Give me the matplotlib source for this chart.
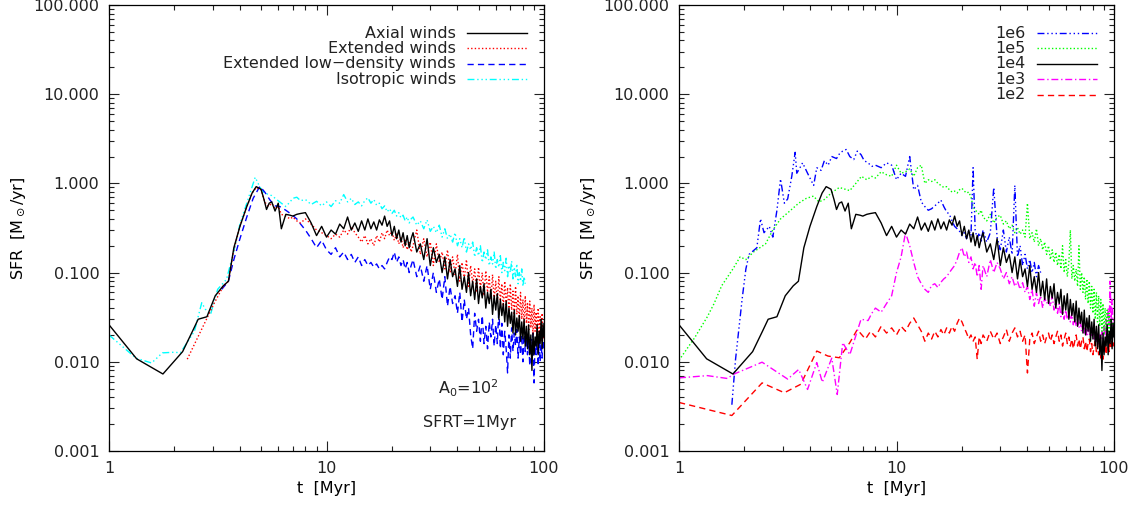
import numpy as np
import matplotlib
matplotlib.use("Agg")
import matplotlib.pyplot as plt
from matplotlib.ticker import LogLocator, FixedLocator, FuncFormatter, NullFormatter

plt.rcParams['font.family'] = ['DejaVu Sans']

# ---------------- time grids (simulation output cadence) ----------------
T_MID = np.arange(8.0, 24.51, 0.5)      # 34 outputs
T_TAIL = np.arange(25.0, 100.01, 1.0)   # 76 outputs

# ---------------- left panel: wind models ----------------
axial_t_early = [1.0, 1.34, 1.77, 2.18, 2.42, 2.57, 2.82, 3.08, 3.35, 3.54, 3.75, 4.0, 4.3,
                 4.55, 4.75, 5.0, 5.16, 5.3, 5.45, 5.6, 5.8, 6.0, 6.2, 6.5, 6.8, 7.0, 7.3, 7.6]
axial_y_early = [0.026, 0.0108, 0.0073, 0.013, 0.022, 0.030, 0.032, 0.055, 0.071, 0.080, 0.19,
                 0.33, 0.55, 0.78, 0.92, 0.86, 0.66, 0.51, 0.60, 0.62, 0.49, 0.60, 0.31, 0.45,
                 0.44, 0.43, 0.45, 0.46]
axial_y_mid = [0.47, 0.36, 0.26, 0.33, 0.25, 0.30, 0.27, 0.35, 0.31, 0.42, 0.30, 0.36, 0.29,
               0.38, 0.30, 0.40, 0.31, 0.37, 0.30, 0.39, 0.34, 0.43, 0.33, 0.38, 0.26, 0.33,
               0.24, 0.30, 0.22, 0.28, 0.20, 0.26, 0.19, 0.24]
axial_y_tail = [0.28, 0.17, 0.21, 0.14, 0.24, 0.12, 0.19, 0.13, 0.16, 0.10, 0.15, 0.085, 0.14,
                0.09, 0.11, 0.07, 0.12, 0.065, 0.09, 0.06, 0.10, 0.055, 0.08, 0.05, 0.085,
                0.045, 0.07, 0.052, 0.075, 0.04, 0.06, 0.045, 0.065, 0.034, 0.055, 0.038, 0.058,
                0.03, 0.05, 0.033, 0.045, 0.028, 0.048, 0.025, 0.04, 0.027, 0.036, 0.021, 0.038,
                0.02, 0.031, 0.022, 0.033, 0.017, 0.028, 0.018, 0.03, 0.015, 0.025, 0.014, 0.026,
                0.012, 0.02, 0.008, 0.021, 0.012, 0.019, 0.015, 0.026, 0.012, 0.022, 0.016,
                0.03, 0.014, 0.027, 0.019]

ext_t_early = [2.29, 3.04, 3.35, 3.54, 3.75, 4.0, 4.3, 4.55, 4.75, 5.0, 5.2, 5.4, 5.6, 5.8,
               6.0, 6.2, 6.5, 6.8, 7.0, 7.3, 7.6]
ext_y_early = [0.0107, 0.045, 0.07, 0.08, 0.18, 0.33, 0.55, 0.78, 0.90, 0.85, 0.62, 0.55,
               0.60, 0.52, 0.55, 0.45, 0.43, 0.40, 0.42, 0.38, 0.36]
ext_y_mid = [0.40, 0.35, 0.30, 0.28, 0.26, 0.24, 0.27, 0.25, 0.30, 0.27, 0.33, 0.28, 0.25,
             0.22, 0.26, 0.21, 0.24, 0.20, 0.26, 0.22, 0.28, 0.24, 0.30, 0.26, 0.29, 0.23,
             0.27, 0.21, 0.25, 0.19, 0.23, 0.18, 0.22, 0.17]
ext_y_tail = [0.20, 0.30, 0.16, 0.24, 0.15, 0.22, 0.12, 0.21, 0.13, 0.17, 0.11, 0.18, 0.10,
              0.15, 0.095, 0.16, 0.08, 0.13, 0.085, 0.14, 0.07, 0.12, 0.075, 0.11, 0.06, 0.115,
              0.065, 0.1, 0.055, 0.105, 0.06, 0.09, 0.05, 0.095, 0.05, 0.08, 0.045, 0.09,
              0.048, 0.075, 0.04, 0.08, 0.042, 0.068, 0.036, 0.075, 0.038, 0.062, 0.032, 0.07,
              0.034, 0.055, 0.028, 0.06, 0.03, 0.05, 0.025, 0.055, 0.027, 0.045, 0.022, 0.048,
              0.024, 0.04, 0.02, 0.044, 0.022, 0.036, 0.018, 0.04, 0.02, 0.032, 0.017, 0.035,
              0.018, 0.025]

lowd_t_early = [3.3, 3.54, 3.75, 4.0, 4.3, 4.6, 4.94, 5.2, 5.5, 5.8, 6.1, 6.5, 6.9, 7.3, 7.6]
lowd_y_early = [0.065, 0.08, 0.14, 0.24, 0.42, 0.68, 0.93, 0.80, 0.65, 0.56, 0.55, 0.50,
                0.45, 0.40, 0.35]
lowd_y_mid = [0.30, 0.24, 0.19, 0.23, 0.18, 0.16, 0.19, 0.15, 0.17, 0.14, 0.16, 0.13, 0.15,
              0.12, 0.14, 0.12, 0.13, 0.115, 0.125, 0.11, 0.12, 0.11, 0.13, 0.15, 0.14, 0.17,
              0.13, 0.15, 0.12, 0.14, 0.11, 0.13, 0.10, 0.12]
lowd_y_tail = [0.14, 0.09, 0.12, 0.08, 0.12, 0.065, 0.10, 0.06, 0.085, 0.05, 0.09, 0.042, 0.07,
               0.045, 0.055, 0.035, 0.06, 0.028, 0.05, 0.03, 0.04, 0.02, 0.014, 0.035, 0.022,
               0.03, 0.017, 0.033, 0.016, 0.025, 0.014, 0.028, 0.019, 0.03, 0.015, 0.026, 0.016,
               0.04, 0.014, 0.027, 0.012, 0.022, 0.014, 0.0075, 0.02, 0.011, 0.024, 0.013, 0.021,
               0.015, 0.023, 0.011, 0.019, 0.012, 0.02, 0.01, 0.023, 0.013, 0.021, 0.012, 0.019,
               0.009, 0.018, 0.013, 0.021, 0.0058, 0.017, 0.012, 0.021, 0.009, 0.019, 0.01, 0.016,
               0.011, 0.02, 0.014]

iso_t_early = [1.0, 1.33, 1.57, 1.76, 2.0, 2.13, 2.47, 2.67, 2.77, 2.93, 3.16, 3.47, 3.74,
               4.0, 4.3, 4.7, 4.95, 5.16, 5.4, 5.6, 5.9, 6.2, 6.5, 6.8, 7.0, 7.3, 7.6]
iso_y_early = [0.020, 0.011, 0.0097, 0.0126, 0.0128, 0.0126, 0.022, 0.046, 0.039, 0.034,
               0.065, 0.084, 0.17, 0.35, 0.60, 1.17, 0.90, 0.79, 0.75, 0.73, 0.66, 0.60, 0.55,
               0.62, 0.68, 0.70, 0.64]
iso_y_mid = [0.66, 0.58, 0.63, 0.56, 0.62, 0.55, 0.64, 0.60, 0.75, 0.62, 0.68, 0.58, 0.62,
             0.56, 0.64, 0.69, 0.60, 0.66, 0.57, 0.60, 0.52, 0.56, 0.48, 0.52, 0.46, 0.50,
             0.43, 0.47, 0.41, 0.44, 0.38, 0.42, 0.36, 0.40]
iso_y_tail = [0.42, 0.34, 0.38, 0.31, 0.39, 0.29, 0.33, 0.28, 0.34, 0.25, 0.31, 0.24, 0.27,
              0.22, 0.28, 0.20, 0.24, 0.19, 0.25, 0.17, 0.21, 0.18, 0.22, 0.15, 0.19, 0.155,
              0.2, 0.13, 0.17, 0.14, 0.18, 0.12, 0.15, 0.125, 0.17, 0.11, 0.14, 0.115, 0.155,
              0.1, 0.13, 0.105, 0.145, 0.09, 0.12, 0.1, 0.135, 0.085, 0.115, 0.09, 0.125, 0.075,
              0.1, 0.08, 0.11, 0.07, 0.09, 0.075]

# ---------------- right panel: initial density runs ----------------
r6_t_early = [1.75, 1.82, 1.95, 2.03, 2.1, 2.28, 2.37, 2.46, 2.6, 2.7, 2.82, 2.93, 3.05, 3.16,
              3.3, 3.42, 3.48, 3.6, 3.7, 3.9, 4.16, 4.3, 4.5, 4.66, 4.85, 5.04, 5.3, 5.5,
              5.66, 5.87, 6.1, 6.36, 6.6, 6.87, 7.1, 7.4, 7.7]
r6_y_early = [0.0033, 0.0107, 0.05, 0.11, 0.16, 0.19, 0.40, 0.28, 0.33, 0.25, 0.50, 1.12,
              0.60, 0.67, 1.2, 2.23, 1.3, 1.5, 1.7, 1.3, 0.95, 1.5, 1.4, 1.8, 1.6, 2.0, 1.9,
              2.2, 2.3, 2.4, 2.0, 1.85, 2.3, 2.1, 1.8, 1.7, 1.55]
r6_y_mid = [1.6, 1.5, 1.7, 1.6, 1.1, 1.3, 1.2, 2.0, 0.85, 0.95, 0.62, 0.55, 0.50, 0.52, 0.56,
            0.60, 0.65, 0.55, 0.48, 0.45, 0.38, 0.33, 0.31, 0.29, 0.26, 0.28, 0.24, 0.30,
            0.26, 1.5, 0.30, 0.24, 0.28, 0.22]
r6_y_tail = [0.30, 0.22, 0.28, 0.90, 0.25, 0.18, 0.30, 0.17, 0.25, 0.16, 0.95, 0.15, 0.20,
             0.12, 0.16, 0.11, 0.14, 0.10, 0.13, 0.09, 0.12, 0.10]

r5_t_early = [1.0, 1.18, 1.35, 1.45, 1.57, 1.77, 1.91, 2.03, 2.2, 2.5, 2.7, 2.93, 3.2, 3.55,
              3.85, 4.15, 4.4, 4.66, 5.04, 5.46, 5.8, 6.1, 6.5, 6.9, 7.3, 7.7]
r5_y_early = [0.0104, 0.0186, 0.032, 0.045, 0.071, 0.11, 0.15, 0.14, 0.17, 0.21, 0.30, 0.40,
              0.48, 0.60, 0.68, 0.72, 0.62, 0.66, 0.79, 0.90, 0.86, 0.83, 1.0, 1.2, 1.1, 1.2]
r5_y_mid = [1.15, 1.35, 1.25, 1.2, 1.6, 1.3, 1.35, 1.45, 1.2, 1.5, 1.6, 1.0, 1.1, 1.05, 1.1,
            1.0, 0.95, 0.9, 0.92, 0.85, 0.8, 0.82, 0.78, 0.85, 0.88, 0.82, 0.78, 0.8, 0.7,
            0.55, 0.5, 0.48, 0.45, 0.5]
r5_y_tail = [0.42, 0.38, 0.45, 0.36, 0.42, 0.44, 0.35, 0.38, 0.31, 0.34, 0.28, 0.32, 0.27,
             0.30, 0.25, 0.60, 0.24, 0.28, 0.22, 0.31, 0.20, 0.24, 0.18, 0.22, 0.16, 0.20,
             0.14, 0.18, 0.13, 0.17, 0.12, 0.16, 0.11, 0.20, 0.10, 0.14, 0.09, 0.13, 0.30,
             0.085, 0.12, 0.08, 0.11, 0.07, 0.20, 0.065, 0.10, 0.06, 0.09, 0.05, 0.085, 0.045,
             0.08, 0.04, 0.07, 0.035, 0.065, 0.03, 0.06, 0.028, 0.055, 0.025, 0.05, 0.022,
             0.045, 0.02, 0.04, 0.022, 0.038, 0.02, 0.035, 0.018, 0.03, 0.02, 0.028, 0.022]

r3_t_early = [1.0, 1.35, 1.67, 1.77, 2.41, 3.16, 3.55, 3.9, 4.3, 4.56, 5.04, 5.34, 5.66, 6.1,
              6.87, 7.4, 7.7]
r3_y_early = [0.0066, 0.0070, 0.0065, 0.0072, 0.0099, 0.0064, 0.0082, 0.0049, 0.0098, 0.0059,
              0.011, 0.0043, 0.0164, 0.012, 0.030, 0.029, 0.035]
r3_y_mid = [0.04, 0.036, 0.045, 0.055, 0.10, 0.15, 0.28, 0.20, 0.13, 0.09, 0.075, 0.065,
            0.06, 0.072, 0.075, 0.068, 0.078, 0.085, 0.09, 0.10, 0.11, 0.12, 0.14, 0.17, 0.19,
            0.15, 0.17, 0.13, 0.15, 0.11, 0.13, 0.09, 0.12, 0.065]
r3_y_tail = [0.12, 0.09, 0.14, 0.10, 0.13, 0.11, 0.085, 0.10, 0.075, 0.09, 0.07, 0.08, 0.065,
             0.077, 0.06, 0.07, 0.05, 0.065, 0.042, 0.06, 0.045, 0.055, 0.04, 0.052, 0.045,
             0.05, 0.042, 0.055, 0.038, 0.05, 0.035, 0.045, 0.032, 0.04, 0.03, 0.038, 0.03,
             0.036, 0.028, 0.035, 0.026, 0.032, 0.025, 0.03, 0.024, 0.028, 0.022, 0.027, 0.021,
             0.026, 0.02, 0.025, 0.02, 0.024, 0.019, 0.023, 0.018, 0.022, 0.017, 0.021, 0.016,
             0.02, 0.018, 0.022, 0.016, 0.025, 0.02, 0.03, 0.022, 0.04, 0.025, 0.08, 0.03,
             0.05, 0.025, 0.03]

r2_t_early = [1.0, 1.75, 2.41, 3.05, 3.63, 4.3, 4.84, 5.46, 6.1, 6.6, 7.2, 7.6]
r2_y_early = [0.0035, 0.0025, 0.0058, 0.0045, 0.0056, 0.0132, 0.0116, 0.0111, 0.0164, 0.023,
              0.018, 0.022]
r2_y_mid = [0.019, 0.025, 0.021, 0.024, 0.020, 0.025, 0.022, 0.027, 0.031, 0.026, 0.022,
            0.017, 0.021, 0.018, 0.022, 0.019, 0.023, 0.020, 0.024, 0.021, 0.025, 0.022,
            0.027, 0.031, 0.028, 0.024, 0.021, 0.018, 0.020, 0.017, 0.019, 0.0107, 0.019, 0.016]
r2_y_tail = [0.020, 0.017, 0.022, 0.018, 0.021, 0.016, 0.019, 0.023, 0.017, 0.021, 0.024,
             0.019, 0.022, 0.017, 0.020, 0.0075, 0.018, 0.021, 0.016, 0.019, 0.022, 0.017,
             0.020, 0.016, 0.019, 0.021, 0.017, 0.020, 0.016, 0.019, 0.022, 0.017, 0.020,
             0.015, 0.018, 0.021, 0.016, 0.019, 0.015, 0.018, 0.014, 0.017, 0.020, 0.015,
             0.018, 0.014, 0.017, 0.019, 0.014, 0.017, 0.013, 0.016, 0.018, 0.013, 0.016,
             0.012, 0.015, 0.017, 0.013, 0.016, 0.012, 0.015, 0.011, 0.014, 0.0107, 0.013,
             0.016, 0.012, 0.015, 0.018, 0.013, 0.016, 0.014, 0.020, 0.015, 0.017]

left_labels = ["Axial winds", "Extended winds", "Extended low\u2212density winds", "Isotropic winds"]
right_labels = ["1e6", "1e5", "1e4", "1e3", "1e2"]
ytick_values = [0.001, 0.01, 0.1, 1.0, 10.0, 100.0]
xtick_values = [1, 10, 100]


def series(t_early, y_early, y_mid, y_tail):
    y_mid = list(y_mid)
    y_tail = list(y_tail)
    t = list(t_early) + list(T_MID[:len(y_mid)]) + list(T_TAIL[:len(y_tail)])
    y = list(y_early) + y_mid + y_tail
    return np.array(t), np.array(y)


AXIAL = series(axial_t_early, axial_y_early, axial_y_mid, axial_y_tail)
EXT = series(ext_t_early, ext_y_early, ext_y_mid, ext_y_tail)
LOWD = series(lowd_t_early, lowd_y_early, lowd_y_mid, lowd_y_tail)
ISO = series(iso_t_early, iso_y_early, iso_y_mid, iso_y_tail)
R6 = series(r6_t_early, r6_y_early, r6_y_mid, r6_y_tail)
R5 = series(r5_t_early, r5_y_early, r5_y_mid, r5_y_tail)
R3 = series(r3_t_early, r3_y_early, r3_y_mid, r3_y_tail)
R2 = series(r2_t_early, r2_y_early, r2_y_mid, r2_y_tail)

DOT = (0, (1, 1.6))
DASH = (0, (4.5, 3))
DASHDOT = (0, (5, 2, 1, 2))
DASH3DOT = (0, (5, 2, 1, 2, 1, 2, 1, 2))

FS = 11.5
fig = plt.figure(figsize=(11.35, 5.08), dpi=100)
axL = fig.add_axes([109 / 1135, 57 / 508, 435 / 1135, 446 / 508])
axR = fig.add_axes([679 / 1135, 57 / 508, 435 / 1135, 446 / 508])

left_specs = [(AXIAL, 'black', '-'), (EXT, '#ff0000', DOT), (LOWD, '#0000ff', DASH),
              (ISO, '#00ffff', DASH3DOT)]
right_specs = [(R6, '#0000ff', DASH3DOT), (R5, '#00ff00', DOT), (AXIAL, 'black', '-'),
               (R3, '#ff00ff', DASHDOT), (R2, '#ff0000', DASH)]

for (t, y), c, ls in left_specs[::-1]:
    axL.plot(t, y, color=c, ls=ls, lw=1.0)
for (t, y), c, ls in [right_specs[i] for i in (4, 3, 1, 0, 2)]:
    axR.plot(t, y, color=c, ls=ls, lw=1.0)


def style(ax, labels, specs):
    ax.set_xscale('log')
    ax.set_yscale('log')
    ax.set_xlim(1, 100)
    ax.set_ylim(0.001, 100)
    ax.xaxis.set_major_locator(FixedLocator(xtick_values))
    ax.xaxis.set_major_formatter(FuncFormatter(lambda v, p: f"{v:g}"))
    ax.xaxis.set_minor_locator(LogLocator(base=10, subs=np.arange(2, 10)))
    ax.xaxis.set_minor_formatter(NullFormatter())
    ax.yaxis.set_major_locator(FixedLocator(ytick_values))
    ax.yaxis.set_major_formatter(FuncFormatter(lambda v, p: f"{v:.3f}"))
    ax.yaxis.set_minor_locator(LogLocator(base=10, subs=np.arange(2, 10)))
    ax.yaxis.set_minor_formatter(NullFormatter())
    ax.tick_params(which='both', direction='in', top=True, right=True, labelsize=FS,
                   width=0.8, colors='#222222')
    ax.tick_params(which='major', length=7, pad=7)
    ax.tick_params(which='minor', length=3.5)
    for s in ax.spines.values():
        s.set_linewidth(0.9)
    ax.set_xlabel('t  [Myr]', fontsize=FS, labelpad=4)
    ax.set_ylabel('SFR  [M$_\\odot$/yr]', fontsize=FS, labelpad=4)
    y0, dy = 0.937, 0.0345
    for i, (lab, (_, c, ls)) in enumerate(zip(labels, specs)):
        yy = y0 - i * dy
        ax.text(0.797, yy, lab, transform=ax.transAxes, ha='right', va='center',
                fontsize=FS, color='#222222')
        ax.plot([0.823, 0.96], [yy, yy], transform=ax.transAxes, color=c, ls=ls, lw=1.0)


style(axL, left_labels, left_specs)
style(axR, right_labels, right_specs)

axL.text(0.825, 0.141, 'A$_0$=10$^2$', transform=axL.transAxes, ha='center', va='center',
         fontsize=FS, color='#222222')
axL.text(0.83, 0.065, 'SFRT=1Myr', transform=axL.transAxes, ha='center', va='center',
         fontsize=FS, color='#222222')

fig.savefig('out.png', dpi=100)
